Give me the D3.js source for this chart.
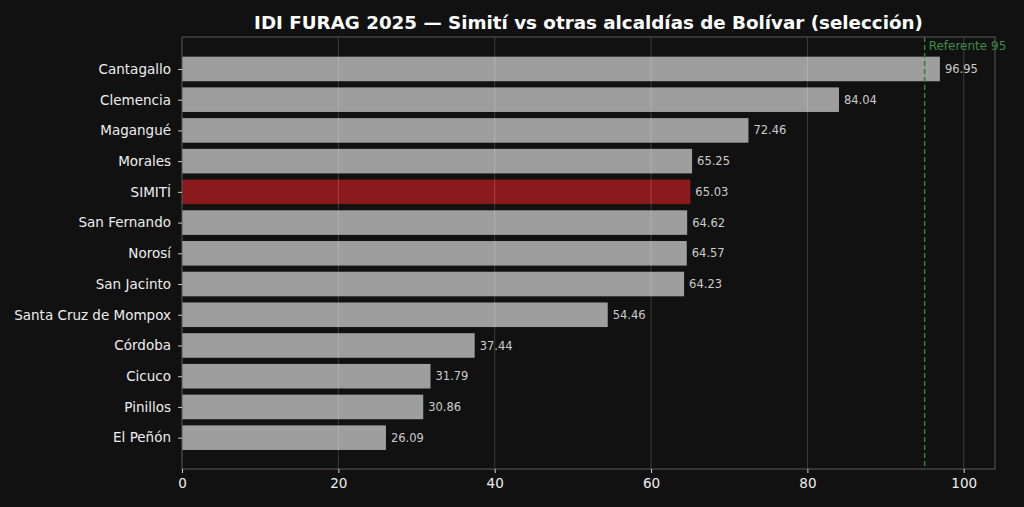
<!DOCTYPE html>
<html><head><meta charset="utf-8">
<script src="https://cdn.jsdelivr.net/npm/d3@7/dist/d3.min.js"></script>
<style>body{margin:0;background:#111111;}svg{display:block;}</style>
</head><body>
<svg id="c" width="1024" height="507"></svg>
<script>
const categories = ["Cantagallo","Clemencia","Magangué","Morales","SIMITÍ","San Fernando","Norosí","San Jacinto","Santa Cruz de Mompox","Córdoba","Cicuco","Pinillos","El Peñón"];
const values = [96.95,84.04,72.46,65.25,65.03,64.62,64.57,64.23,54.46,37.44,31.79,30.86,26.09];
const highlight = "SIMITÍ";
const xTicks = [0,20,40,60,80,100];
const referente = 95;
const title = "IDI FURAG 2025 — Simití vs otras alcaldías de Bolívar (selección)";

const W=1024,H=507, L=182, R=995, T=37, B=469;
const svg=d3.select("#c");
svg.append("rect").attr("width",W).attr("height",H).attr("fill","#111111");
const x=d3.scaleLinear().domain([0,104]).range([L,R]);
const y=d3.scaleLinear().domain([-1.04,13.02]).range([T,B]);
const bh = (y(1)-y(0))*0.8;
const font="DejaVu Sans, sans-serif";

// bars
svg.append("g").selectAll("rect").data(categories).join("rect")
  .attr("x",x(0)).attr("y",(d,i)=>y(i)-bh/2)
  .attr("width",(d,i)=>x(values[i])-x(0)).attr("height",bh)
  .attr("fill",d=>d===highlight?"#8b1a1d":"#9e9e9e");

// grid
svg.append("g").selectAll("line").data(xTicks.filter(t=>t>0)).join("line")
  .attr("x1",d=>x(d)).attr("x2",d=>x(d)).attr("y1",T).attr("y2",B)
  .attr("stroke","#ffffff").attr("stroke-opacity",0.18).attr("stroke-width",1);

// reference line
svg.append("line").attr("x1",x(referente)).attr("x2",x(referente)).attr("y1",T).attr("y2",B)
  .attr("stroke","#2f7f3b").attr("stroke-width",1.5).attr("stroke-dasharray","5,3");
svg.append("text").attr("x",x(referente)+4).attr("y",T+13).text("Referente "+referente)
  .attr("fill","#3f8a47").attr("font-family",font).attr("font-size",12);

// value labels
svg.append("g").selectAll("text").data(values).join("text")
  .attr("x",d=>x(d)+5).attr("y",(d,i)=>y(i)).attr("dy","0.35em")
  .text(d=>d.toFixed(2)).attr("fill","#cccccc").attr("font-family",font).attr("font-size",11.5);

// frame
svg.append("rect").attr("x",L).attr("y",T).attr("width",R-L).attr("height",B-T)
  .attr("fill","none").attr("stroke","#5a5a5a").attr("stroke-width",1);

// x axis
const xa=svg.append("g").attr("transform",`translate(0,${B})`)
  .call(d3.axisBottom(x).tickValues(xTicks).tickSize(4).tickPadding(5).tickFormat(d3.format("d")));
xa.select(".domain").remove();
xa.selectAll("line").attr("stroke","#cccccc");
xa.selectAll("text").attr("fill","#eeeeee").attr("font-family",font).attr("font-size",13.5);

// y axis
const ya=svg.append("g").attr("transform",`translate(${L},0)`)
  .call(d3.axisLeft(y).tickValues(d3.range(categories.length)).tickSize(4).tickPadding(7).tickFormat(i=>categories[i]));
ya.select(".domain").remove();
ya.selectAll("line").attr("stroke","#cccccc");
ya.selectAll("text").attr("fill","#eeeeee").attr("font-family",font).attr("font-size",13.5);

// title
svg.append("text").attr("x",(L+R)/2).attr("y",29).attr("text-anchor","middle")
  .text(title).attr("fill","#ffffff").attr("font-family",font).attr("font-weight","bold").attr("font-size",18.3);
</script>
</body></html>
